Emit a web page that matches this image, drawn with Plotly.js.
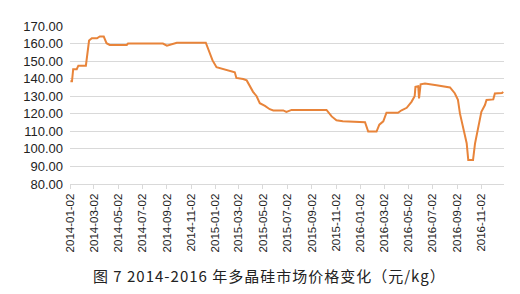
<!DOCTYPE html>
<html>
<head>
<meta charset="utf-8">
<script src="https://cdn.plot.ly/plotly-3.0.1.min.js"></script>
<style>
html,body{margin:0;padding:0;background:#fff;}
#chart{width:520px;height:294px;}
#chart .annotation-text{letter-spacing:1px;}
</style>
</head>
<body>
<div id="chart"></div>
<script>
const dates = [
 '2014-01-02','2014-01-06','2014-01-09','2014-01-18','2014-01-22','2014-02-10','2014-02-18','2014-02-25',
 '2014-03-10','2014-03-17','2014-03-27','2014-04-03','2014-04-11','2014-05-24','2014-05-27','2014-08-23',
 '2014-09-02','2014-09-17','2014-09-27','2014-12-09','2014-12-17','2014-12-26','2015-01-05','2015-01-22',
 '2015-02-03','2015-02-20','2015-02-24','2015-03-13','2015-03-22','2015-03-30','2015-04-07','2015-04-16',
 '2015-04-24','2015-05-07','2015-05-19','2015-05-28','2015-06-22','2015-06-30','2015-07-13','2015-10-09',
 '2015-10-22','2015-11-03','2015-11-19','2016-01-14','2016-01-22','2016-02-12','2016-02-19','2016-02-29',
 '2016-03-08','2016-04-06','2016-04-15','2016-04-28','2016-05-10','2016-05-18','2016-05-20','2016-05-27',
 '2016-05-29','2016-06-02','2016-06-13','2016-07-12','2016-08-06','2016-08-15','2016-08-27','2016-09-04',
 '2016-09-09','2016-09-17','2016-09-26','2016-09-30','2016-10-12','2016-10-17','2016-10-25','2016-11-02',
 '2016-11-11','2016-11-15','2016-12-02','2016-12-06','2016-12-24','2016-12-27'
];
const prices = [
 138.5,138.5,145.4,145.4,147.4,147.4,161.7,163.0,
 163.0,164.0,164.0,160.2,159.2,159.2,160.0,160.0,
 158.8,160.0,160.5,160.5,155.7,150.4,146.5,145.5,
 144.5,143.6,140.4,139.8,139.0,136.0,132.5,130.0,
 126.0,124.5,122.6,121.9,121.9,121.1,122.2,122.2,
 118.5,116.3,115.8,115.2,109.9,109.9,113.8,115.7,
 120.6,120.6,122.0,123.4,126.8,130.0,135.3,135.7,
 128.7,136.8,137.2,136.3,135.3,135.0,131.7,127.9,
 120.2,112.7,103.2,93.7,93.7,103.0,112.7,121.1,
 125.0,127.9,128.2,131.6,131.8,132.5
];
const tickDates = ['2014-01-02','2014-03-02','2014-05-02','2014-07-02','2014-09-02','2014-11-02',
 '2015-01-02','2015-03-02','2015-05-02','2015-07-02','2015-09-02','2015-11-02',
 '2016-01-02','2016-03-02','2016-05-02','2016-07-02','2016-09-02','2016-11-02'];
const chartTitle = '图 7 2014-2016 年多晶硅市场价格变化（元/kg）';

const trace = {
  x: dates, y: prices, type: 'scatter', mode: 'lines',
  line: {color: '#E8843A', width: 2}, hoverinfo: 'skip'
};
const layout = {
  width: 520, height: 294,
  margin: {l: 70, r: 16, t: 26, b: 110},
  paper_bgcolor: '#fff', plot_bgcolor: '#fff',
  showlegend: false,
  font: {family: 'Liberation Sans, Arial, sans-serif', color: '#222'},
  xaxis: {
    type: 'date', range: ['2014-01-01', '2016-12-29'],
    tickvals: tickDates, ticktext: tickDates, tickangle: -90,
    tickfont: {size: 11.5, color: '#222'},
    showgrid: false, zeroline: false,
    showline: true, linecolor: '#d9d9d9', linewidth: 1,
    ticks: 'outside', ticklen: 4, tickcolor: '#d9d9d9'
  },
  yaxis: {
    range: [80, 170], dtick: 10, tick0: 80, tickformat: '.2f',
    tickfont: {size: 13, color: '#222'},
    showgrid: true, gridcolor: '#d9d9d9', gridwidth: 1,
    zeroline: false, showline: false, ticks: '', ticklabelstandoff: 6
  },
  annotations: [{
    text: chartTitle, xref: 'paper', yref: 'paper',
    x: 0.46, y: -0.58, xanchor: 'center', yanchor: 'middle', showarrow: false,
    font: {family: 'Noto Sans CJK SC, sans-serif', size: 15, color: '#222'}
  }]
};
Plotly.newPlot('chart', [trace], layout, {staticPlot: true, displayModeBar: false});
</script>
</body>
</html>
